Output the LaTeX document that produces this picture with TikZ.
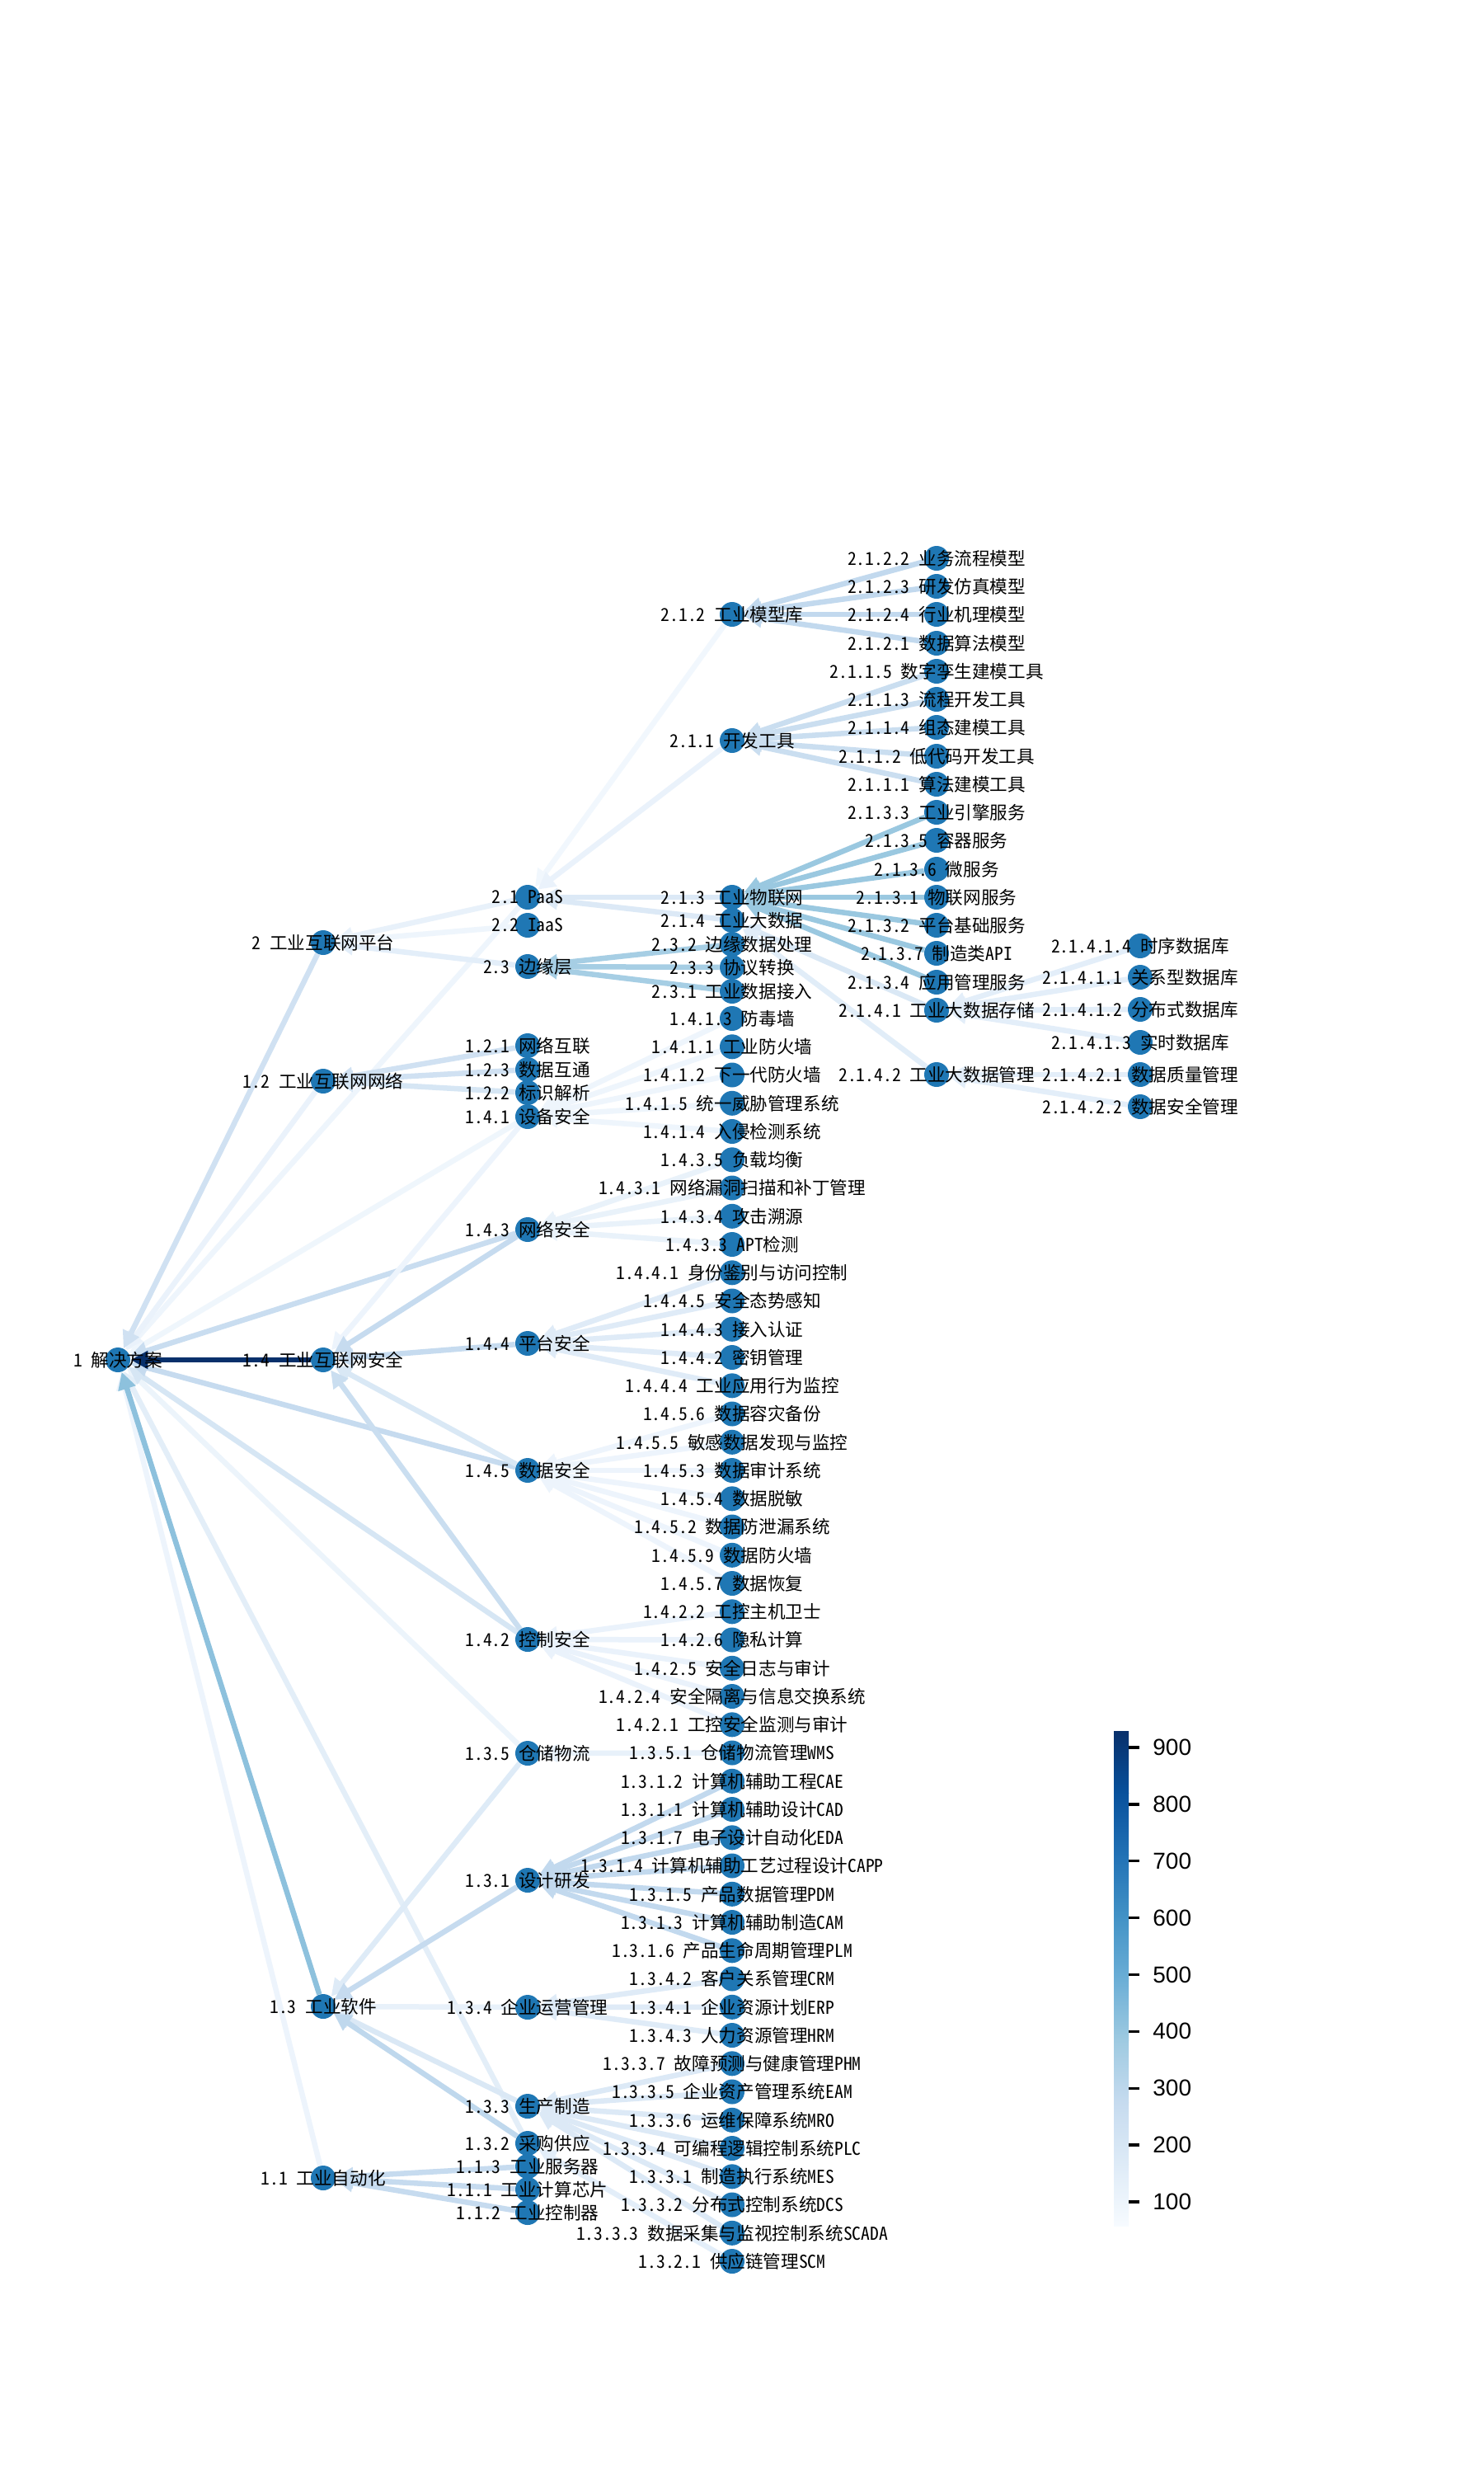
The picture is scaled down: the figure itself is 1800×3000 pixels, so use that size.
\documentclass[tikz,border=0pt]{standalone}
\usepackage{fontspec}
\setmainfont{Noto Sans CJK SC}[RawFeature=+hwid]
\newfontfamily\cbfont{Liberation Sans}
\usetikzlibrary{arrows.meta}
\pgfdeclarelayer{bg}
\pgfsetlayers{bg,main}
\definecolor{nodeblue}{HTML}{1F77B4}
\definecolor{B0}{HTML}{F7FBFF}\definecolor{B1}{HTML}{DEEBF7}\definecolor{B2}{HTML}{C6DBEF}
\definecolor{B3}{HTML}{9ECAE1}\definecolor{B4}{HTML}{6BAED6}\definecolor{B5}{HTML}{4292C6}
\definecolor{B6}{HTML}{2171B5}\definecolor{B7}{HTML}{08519C}\definecolor{B8}{HTML}{08306B}
\tikzset{
 dot/.style={circle, fill=nodeblue, draw=none, minimum size=15pt, inner sep=0pt},
 lab/.style={inner sep=0pt, font=\fontsize{10.8}{12}\selectfont, text=black},
 edge/.style={line width=3.25pt, -{Triangle[length=10.5pt,width=10.5pt]}},
 cbtick/.style={line width=1.7pt, black},
 cblab/.style={anchor=west, inner sep=0pt, font=\cbfont\fontsize{14}{16}\selectfont},
}
\newcommand\circlemaker[4]{\node[dot] (#1) at (#2,#3) {};}
\newcommand\labelmaker[4]{\node[lab] (#1l) at (#2,#3) {#4};}
\newcommand\E[3]{\definecolor{ec}{HTML}{#3}\draw[edge,draw=ec] (#1) -- (#2);}
\newcommand\nodelist{%
\mynode{n1}{143}{1649}{1 解决方案}
\mynode{n2}{392}{1143}{2 工业互联网平台}
\mynode{n12}{392}{1311}{1.2 工业互联网网络}
\mynode{n14}{392}{1649}{1.4 工业互联网安全}
\mynode{n13}{392}{2433}{1.3 工业软件}
\mynode{n11}{392}{2641}{1.1 工业自动化}
\mynode{n21}{640}{1088}{2.1 PaaS}
\mynode{n22}{640}{1122}{2.2 IaaS}
\mynode{n23}{640}{1172}{2.3 边缘层}
\mynode{n121}{640}{1268}{1.2.1 网络互联}
\mynode{n123}{640}{1297}{1.2.3 数据互通}
\mynode{n122}{640}{1325}{1.2.2 标识解析}
\mynode{n141}{640}{1354}{1.4.1 设备安全}
\mynode{n143}{640}{1491}{1.4.3 网络安全}
\mynode{n144}{640}{1629}{1.4.4 平台安全}
\mynode{n145}{640}{1783}{1.4.5 数据安全}
\mynode{n142}{640}{1988}{1.4.2 控制安全}
\mynode{n135}{640}{2126}{1.3.5 仓储物流}
\mynode{n131}{640}{2280}{1.3.1 设计研发}
\mynode{n134}{640}{2434}{1.3.4 企业运营管理}
\mynode{n133}{640}{2554}{1.3.3 生产制造}
\mynode{n132}{640}{2599}{1.3.2 采购供应}
\mynode{n113}{640}{2627}{1.1.3 工业服务器}
\mynode{n111}{640}{2655}{1.1.1 工业计算芯片}
\mynode{n112}{640}{2683}{1.1.2 工业控制器}
\mynode{n212}{888}{745}{2.1.2 工业模型库}
\mynode{n211}{888}{898}{2.1.1 开发工具}
\mynode{n213}{888}{1088}{2.1.3 工业物联网}
\mynode{n214}{888}{1116}{2.1.4 工业大数据}
\mynode{n232}{888}{1145}{2.3.2 边缘数据处理}
\mynode{n233}{888}{1173}{2.3.3 协议转换}
\mynode{n231}{888}{1202}{2.3.1 工业数据接入}
\mynode{n1413}{888}{1235.0}{1.4.1.3 防毒墙}
\mynode{n1411}{888}{1269.3}{1.4.1.1 工业防火墙}
\mynode{n1412}{888}{1303.5}{1.4.1.2 下一代防火墙}
\mynode{n1415}{888}{1337.8}{1.4.1.5 统一威胁管理系统}
\mynode{n1414}{888}{1372.0}{1.4.1.4 入侵检测系统}
\mynode{n1435}{888}{1406.3}{1.4.3.5 负载均衡}
\mynode{n1431}{888}{1440.5}{1.4.3.1 网络漏洞扫描和补丁管理}
\mynode{n1434}{888}{1474.8}{1.4.3.4 攻击溯源}
\mynode{n1433}{888}{1509.0}{1.4.3.3 APT检测}
\mynode{n1441}{888}{1543.3}{1.4.4.1 身份鉴别与访问控制}
\mynode{n1445}{888}{1577.5}{1.4.4.5 安全态势感知}
\mynode{n1443}{888}{1611.8}{1.4.4.3 接入认证}
\mynode{n1442}{888}{1646.0}{1.4.4.2 密钥管理}
\mynode{n1444}{888}{1680.3}{1.4.4.4 工业应用行为监控}
\mynode{n1456}{888}{1714.5}{1.4.5.6 数据容灾备份}
\mynode{n1455}{888}{1748.8}{1.4.5.5 敏感数据发现与监控}
\mynode{n1453}{888}{1783.0}{1.4.5.3 数据审计系统}
\mynode{n1454}{888}{1817.3}{1.4.5.4 数据脱敏}
\mynode{n1452}{888}{1851.5}{1.4.5.2 数据防泄漏系统}
\mynode{n1459}{888}{1885.8}{1.4.5.9 数据防火墙}
\mynode{n1457}{888}{1920.0}{1.4.5.7 数据恢复}
\mynode{n1422}{888}{1954.3}{1.4.2.2 工控主机卫士}
\mynode{n1426}{888}{1988.5}{1.4.2.6 隐私计算}
\mynode{n1425}{888}{2022.8}{1.4.2.5 安全日志与审计}
\mynode{n1424}{888}{2057.0}{1.4.2.4 安全隔离与信息交换系统}
\mynode{n1421}{888}{2091.3}{1.4.2.1 工控安全监测与审计}
\mynode{n1351}{888}{2125.5}{1.3.5.1 仓储物流管理WMS}
\mynode{n1312}{888}{2159.8}{1.3.1.2 计算机辅助工程CAE}
\mynode{n1311}{888}{2194.0}{1.3.1.1 计算机辅助设计CAD}
\mynode{n1317}{888}{2228.3}{1.3.1.7 电子设计自动化EDA}
\mynode{n1314}{888}{2262.5}{1.3.1.4 计算机辅助工艺过程设计CAPP}
\mynode{n1315}{888}{2296.8}{1.3.1.5 产品数据管理PDM}
\mynode{n1313}{888}{2331.0}{1.3.1.3 计算机辅助制造CAM}
\mynode{n1316}{888}{2365.3}{1.3.1.6 产品生命周期管理PLM}
\mynode{n1342}{888}{2399.5}{1.3.4.2 客户关系管理CRM}
\mynode{n1341}{888}{2433.8}{1.3.4.1 企业资源计划ERP}
\mynode{n1343}{888}{2468.0}{1.3.4.3 人力资源管理HRM}
\mynode{n1337}{888}{2502.3}{1.3.3.7 故障预测与健康管理PHM}
\mynode{n1335}{888}{2536.5}{1.3.3.5 企业资产管理系统EAM}
\mynode{n1336}{888}{2570.8}{1.3.3.6 运维保障系统MRO}
\mynode{n1334}{888}{2605.0}{1.3.3.4 可编程逻辑控制系统PLC}
\mynode{n1331}{888}{2639.3}{1.3.3.1 制造执行系统MES}
\mynode{n1332}{888}{2673.5}{1.3.3.2 分布式控制系统DCS}
\mynode{n1333}{888}{2707.8}{1.3.3.3 数据采集与监视控制系统SCADA}
\mynode{n1321}{888}{2742.0}{1.3.2.1 供应链管理SCM}
\mynode{n2122}{1136}{677}{2.1.2.2 业务流程模型}
\mynode{n2123}{1136}{711}{2.1.2.3 研发仿真模型}
\mynode{n2124}{1136}{745}{2.1.2.4 行业机理模型}
\mynode{n2121}{1136}{780}{2.1.2.1 数据算法模型}
\mynode{n2115}{1136}{814}{2.1.1.5 数字孪生建模工具}
\mynode{n2113}{1136}{848}{2.1.1.3 流程开发工具}
\mynode{n2114}{1136}{882}{2.1.1.4 组态建模工具}
\mynode{n2112}{1136}{917}{2.1.1.2 低代码开发工具}
\mynode{n2111}{1136}{951}{2.1.1.1 算法建模工具}
\mynode{n2133}{1136}{985}{2.1.3.3 工业引擎服务}
\mynode{n2135}{1136}{1019}{2.1.3.5 容器服务}
\mynode{n2136}{1136}{1054}{2.1.3.6 微服务}
\mynode{n2131}{1136}{1088}{2.1.3.1 物联网服务}
\mynode{n2132}{1136}{1122}{2.1.3.2 平台基础服务}
\mynode{n2137}{1136}{1156}{2.1.3.7 制造类API}
\mynode{n2134}{1136}{1191}{2.1.3.4 应用管理服务}
\mynode{n2141}{1136}{1225}{2.1.4.1 工业大数据存储}
\mynode{n2142}{1136}{1303}{2.1.4.2 工业大数据管理}
\mynode{n21414}{1383}{1147}{2.1.4.1.4 时序数据库}
\mynode{n21411}{1383}{1185}{2.1.4.1.1 关系型数据库}
\mynode{n21412}{1383}{1224}{2.1.4.1.2 分布式数据库}
\mynode{n21413}{1383}{1264}{2.1.4.1.3 实时数据库}
\mynode{n21421}{1383}{1303}{2.1.4.2.1 数据质量管理}
\mynode{n21422}{1383}{1342}{2.1.4.2.2 数据安全管理}
}
\begin{document}
\begin{tikzpicture}[x=0.5pt,y=-0.5pt]
\useasboundingbox (0,0) rectangle (1800,3000);
\begin{pgfonlayer}{bg}
\fill[white] (0,0) rectangle (1800,3000);
\end{pgfonlayer}
\let\mynode\circlemaker
\nodelist
\begin{pgfonlayer}{bg}
% edges to root
\E{n21}{n1}{EEF5FC}
\E{n141}{n1}{EFF6FC}
\E{n135}{n1}{ECF4FB}
\E{n132}{n1}{E3EEF8}
\E{n12}{n1}{EAF2FB}
\E{n11}{n1}{EDF4FC}
\E{n142}{n1}{D6E6F4}
\E{n143}{n1}{C9DDF0}
\E{n145}{n1}{C6DBEF}
\E{n2}{n1}{D0E1F2}
\E{n13}{n1}{8DC1DD}
\E{n14}{n1}{08306B}
% level 1
\E{n21}{n2}{E8F1FA}
\E{n22}{n2}{EEF5FC}
\E{n23}{n2}{E3EEF9}
\E{n121}{n12}{D0E1F2}
\E{n123}{n12}{D0E1F2}
\E{n122}{n12}{D6E6F4}
\E{n141}{n14}{EDF4FC}
\E{n145}{n14}{D9E8F5}
\E{n143}{n14}{C6DBEF}
\E{n144}{n14}{C6DBEF}
\E{n142}{n14}{CADEF0}
\E{n135}{n13}{DEEBF7}
\E{n134}{n13}{E8F1FA}
\E{n133}{n13}{DAE8F5}
\E{n131}{n13}{C6DBEF}
\E{n132}{n13}{BFD8ED}
\E{n113}{n11}{C6DBEF}
\E{n111}{n11}{C6DBEF}
\E{n112}{n11}{C6DBEF}
% level 2
\E{n212}{n21}{F1F7FD}
\E{n211}{n21}{EAF2FB}
\E{n213}{n21}{DCE9F6}
\E{n214}{n21}{DCE9F6}
\E{n232}{n23}{A6CEE4}
\E{n233}{n23}{A6CEE4}
\E{n231}{n23}{A6CEE4}
\foreach \c in {n1413,n1411,n1412,n1415,n1414}{\E{\c}{n141}{EEF5FC}}
\foreach \c in {n1435,n1431,n1434,n1433}{\E{\c}{n143}{E9F2FA}}
\foreach \c in {n1441,n1445,n1443,n1442,n1444}{\E{\c}{n144}{DFEBF7}}
\foreach \c in {n1456,n1455,n1453,n1454,n1452,n1459,n1457}{\E{\c}{n145}{EDF4FC}}
\foreach \c in {n1422,n1426,n1425,n1424,n1421}{\E{\c}{n142}{EAF2FB}}
\E{n1351}{n135}{E8F1FA}
\foreach \c in {n1312,n1311,n1317,n1314,n1315,n1313,n1316}{\E{\c}{n131}{C2D9EE}}
\foreach \c in {n1342,n1341,n1343}{\E{\c}{n134}{DFEBF7}}
\foreach \c in {n1337,n1335,n1336,n1334,n1331,n1332,n1333}{\E{\c}{n133}{DCE9F6}}
\E{n1321}{n132}{E3EEF9}
% level 3
\foreach \c in {n2122,n2123,n2124,n2121}{\E{\c}{n212}{C2D9EE}}
\foreach \c in {n2115,n2113,n2114,n2112,n2111}{\E{\c}{n211}{CADEF0}}
\foreach \c in {n2133,n2135,n2136,n2131,n2132,n2137,n2134}{\E{\c}{n213}{9AC8E0}}
\E{n2141}{n214}{DAE8F5}
\E{n2142}{n214}{E1EDF8}
% level 4
\foreach \c in {n21414,n21411,n21412,n21413}{\E{\c}{n2141}{E3EEF9}}
\foreach \c in {n21421,n21422}{\E{\c}{n2142}{E3EEF9}}
\end{pgfonlayer}
\let\mynode\labelmaker
\nodelist
% colour bar
\shade[bottom color=B0, top color=B1] (1351,2699.6) rectangle (1369,2624.1);
\shade[bottom color=B1, top color=B2] (1351,2624.6) rectangle (1369,2549.1);
\shade[bottom color=B2, top color=B3] (1351,2549.6) rectangle (1369,2474.1);
\shade[bottom color=B3, top color=B4] (1351,2474.6) rectangle (1369,2399.1);
\shade[bottom color=B4, top color=B5] (1351,2399.6) rectangle (1369,2324.1);
\shade[bottom color=B5, top color=B6] (1351,2324.6) rectangle (1369,2249.1);
\shade[bottom color=B6, top color=B7] (1351,2249.6) rectangle (1369,2174.1);
\shade[bottom color=B7, top color=B8] (1351,2174.6) rectangle (1369,2099.6);
\coordinate (cbtop) at (1369,2099.6);
\foreach \v in {100,200,...,900}{
  \pgfmathsetmacro\yy{2699.6-(\v-57)/871*600}
  \draw[cbtick] (1369,\yy) -- (1382,\yy);
  \node[cblab] (tick\v) at (1398,\yy) {\v};
}
\end{tikzpicture}
\end{document}
